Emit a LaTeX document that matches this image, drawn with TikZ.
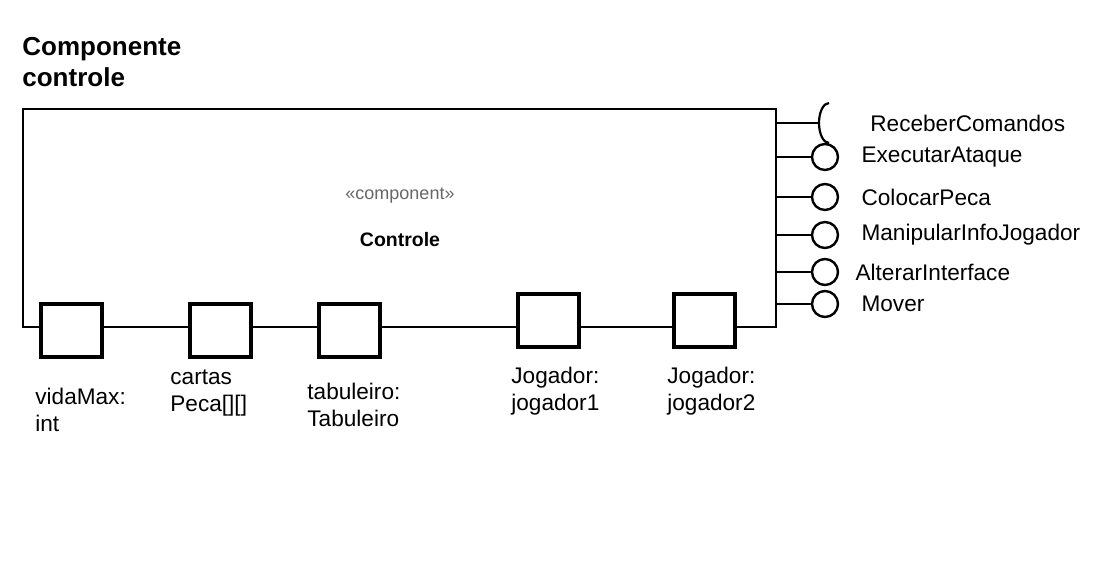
\documentclass[tikz,border=0pt]{standalone}
\usepackage{fontspec}
\setmainfont{Liberation Sans}
\usetikzlibrary{positioning}

\begin{document}
\begin{tikzpicture}[x=0.5pt, y=-0.5pt, node distance=11pt,
  port/.style={rectangle, draw, fill=white, line width=2pt, minimum width=30.5pt, minimum height=26.5pt, inner sep=0pt},
  iface/.style={circle, draw, fill=white, line width=1.2pt, minimum size=13pt, inner sep=0pt},
  lbl/.style={inner sep=0pt, align=left, font=\fontsize{11.3}{13.5}\selectfont},
  wire/.style={line width=1.1pt}]

  \useasboundingbox (0,0) rectangle (1100,582);

  % title
  \node[lbl, anchor=north west, font=\fontsize{13}{15.5}\selectfont\bfseries] (title) at (22,37) {Componente\\controle};

  % component box
  \node[rectangle, draw, line width=1.1pt, minimum width=376.5pt, minimum height=109pt, inner sep=0pt] (controle) at (399.5,218) {};
  \node[text=black!60, font=\fontsize{9}{11}\selectfont] (stereo) at (400,196) {«component»};
  \node[font=\fontsize{9.75}{12}\selectfont\bfseries] (cname) at (400,240) {Controle};

  % ports on the bottom edge
  \node[port] (vida) at (71.5,330.5) {};
  \node[port] (cartas) at (220.5,330.5) {};
  \node[port] (tab) at (349.5,330.5) {};
  \node[port] (jog1) at (548.5,320.5) {};
  \node[port] (jog2) at (704.5,320.5) {};

  \node[lbl, anchor=north west] (vidalbl) at (35,388) {vidaMax:\\int};
  \node[lbl, anchor=north west] (cartaslbl) at (170,369) {cartas\\Peca[][]};
  \node[lbl, anchor=north west] (tablbl) at (307,383) {tabuleiro:\\Tabuleiro};
  \node[lbl, anchor=north west] (jog1lbl) at (511,367) {Jogador:\\jogador1};
  \node[lbl, anchor=north west] (jog2lbl) at (667,367) {Jogador:\\jogador2};

  % interfaces
  \coordinate (sock) at (819,123);
  \node[iface] (exec) at (825,157) {};
  \node[iface] (colocar) at (825,197) {};
  \node[iface] (manip) at (825,235) {};
  \node[iface] (alterar) at (825,272) {};
  \node[iface] (mover) at (825,304) {};

  \draw[wire] (controle.east |- sock) -- (sock);
  \draw[wire] (sock) ++(10,20) arc[start angle=90, end angle=270, x radius=10, y radius=20];
  \foreach \i in {exec, colocar, manip, alterar, mover}
    \draw[wire] (controle.east |- \i) -- (\i);

  \node[lbl, right=25.5pt of sock] (socklbl) {ReceberComandos};
  \node[lbl, right=11pt of exec] (execlbl) {ExecutarAtaque};
  \node[lbl, right=11pt of colocar] (colocarlbl) {ColocarPeca};
  \node[lbl, right=11pt of manip] (maniplbl) {ManipularInfoJogador};
  \node[lbl, right=8pt of alterar] (alterarlbl) {AlterarInterface};
  \node[lbl, right=11pt of mover] (moverlbl) {Mover};
\end{tikzpicture}
\end{document}
